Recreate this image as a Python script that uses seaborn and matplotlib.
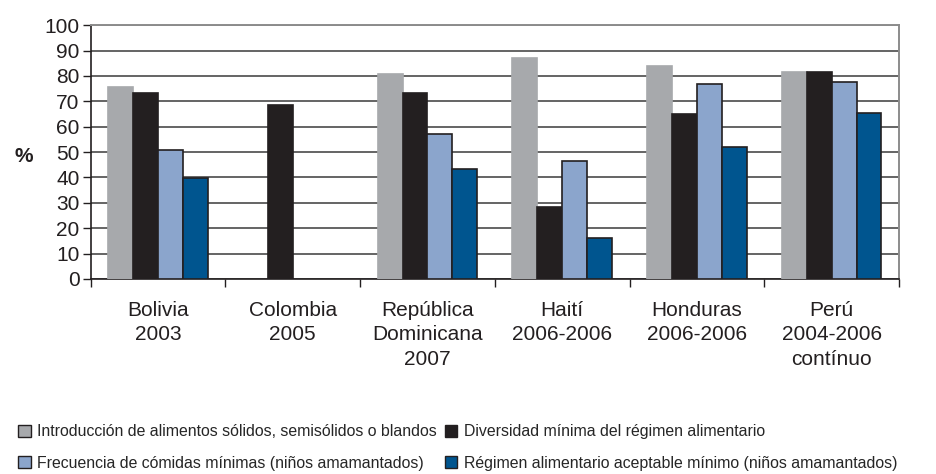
import numpy as np
import pandas as pd
import matplotlib.pyplot as plt
import seaborn as sns
from matplotlib.patches import Patch

# datos
paises = ['Bolivia\n2003', 'Colombia\n2005', 'República\nDominicana\n2007',
          'Haití\n2006-2006', 'Honduras\n2006-2006', 'Perú\n2004-2006\ncontínuo']
series = ['Introducción de alimentos sólidos, semisólidos o blandos',
          'Diversidad mínima del régimen alimentario',
          'Frecuencia de cómidas mínimas (niños amamantados)',
          'Régimen alimentario aceptable mínimo (niños amamantados)']
introduccion = [75.7, np.nan, 80.8, 87.0, 84.0, 81.6]
diversidad = [73.1, 68.6, 73.1, 28.3, 65.0, 81.6]
frecuencia = [51.0, np.nan, 57.1, 46.4, 76.9, 77.7]
regimen = [39.7, np.nan, 43.4, 16.1, 52.0, 65.5]
colores = ['#A7A9AC', '#231F20', '#8BA5CC', '#00558F']

valores = [introduccion, diversidad, frecuencia, regimen]
filas = []
for s, vals in zip(series, valores):
    for p, v in zip(paises, vals):
        filas.append({'pais': p, 'serie': s, 'valor': v})
df = pd.DataFrame(filas)

sns.set_style('white')
plt.rcParams['font.family'] = ['Liberation Sans', 'DejaVu Sans']

fig = plt.figure(figsize=(9.37, 4.74), dpi=100)
ax = fig.add_axes([0.0968, 0.4114, 0.8626, 0.5356])

sns.barplot(data=df, x='pais', y='valor', hue='serie', hue_order=series,
            order=paises, palette=colores, width=0.74, gap=0,
            edgecolor='#231F20', linewidth=1.2, saturation=1,
            legend=False, ax=ax, zorder=3)
for bar in ax.containers[0]:
    bar.set_edgecolor('#A7A9AC')

ax.set_ylim(0, 100)
ax.set_xlim(-0.5, 5.5)
ax.set_yticks(range(0, 101, 10))
ax.yaxis.grid(True, color='#3A3A3A', linewidth=1.1, zorder=0)
ax.set_axisbelow(True)

ax.set_xticks(range(len(paises)))
ax.set_xticklabels(paises, fontsize=15, color='#231F20', linespacing=1.35)
ax.set_xticks(np.arange(-0.5, 6, 1), minor=True)
ax.tick_params(axis='x', which='major', length=0, pad=16)
ax.tick_params(axis='x', which='minor', length=6, direction='out', color='#231F20', width=1)
ax.tick_params(axis='y', length=6, direction='out', color='#231F20', width=1,
               labelsize=15, labelcolor='#231F20', pad=2)
ax.tick_params(bottom=True, left=True, which='both')

ax.set_xlabel('')
ax.set_ylabel('%', rotation=0, fontsize=15, fontweight='bold', color='#231F20', va='center')
ax.yaxis.set_label_coords(-0.083, 0.484)

for lado in ['left', 'bottom']:
    ax.spines[lado].set_color('#231F20')
    ax.spines[lado].set_linewidth(1.2)
for lado in ['top', 'right']:
    ax.spines[lado].set_color('#8C8C8C')
    ax.spines[lado].set_linewidth(1.4)

orden = [0, 2, 1, 3]
handles = [Patch(facecolor=colores[i], edgecolor='#231F20', linewidth=1) for i in orden]
labels = [series[i] for i in orden]
fig.legend(handles, labels, ncol=2, loc='upper left', bbox_to_anchor=(0.004, 0.135),
           frameon=False, handlelength=0.8, handleheight=0.8, handletextpad=0.4,
           columnspacing=0.5, labelspacing=1.05,
           prop={'family': ['Liberation Sans', 'DejaVu Sans'], 'size': 11.4})

fig.savefig('out.png', dpi=100)
